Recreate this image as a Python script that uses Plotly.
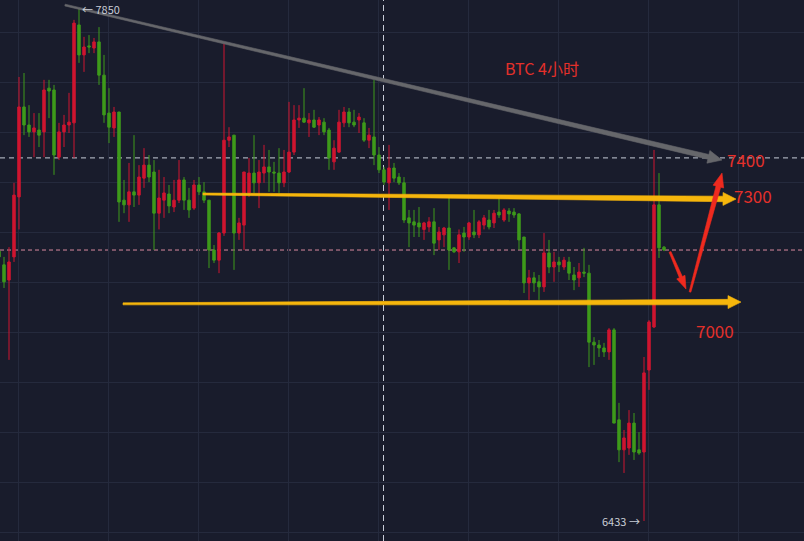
import math
import plotly.graph_objects as go

# ---------------- data ----------------
opens = [7180, 7142, 7100, 7164, 7330, 7579, 7529, 7510, 7515, 7510,
         7631, 7626, 7440, 7510, 7529, 7535, 7806, 7723, 7748, 7742,
         7759, 7667, 7562, 7521, 7565, 7321, 7308, 7344, 7335, 7382,
         7418, 7399, 7285, 7321, 7338, 7302, 7321, 7377, 7321, 7299,
         7363, 7344, 7321, 7183, 7155, 7230, 7487, 7501, 7230, 7252,
         7341, 7396, 7369, 7396, 7413, 7399, 7396, 7369, 7399, 7454,
         7543, 7548, 7535, 7543, 7529, 7537, 7515, 7427, 7454, 7535,
         7565, 7537, 7543, 7535, 7487, 7496, 7446, 7405, 7369, 7410,
         7385, 7369, 7272, 7261, 7258, 7240, 7247, 7261, 7211, 7225,
         7244, 7189, 7178, 7230, 7219, 7233, 7225, 7252, 7266, 7258,
         7288, 7266, 7291, 7288, 7283, 7219, 7092, 7106, 7095, 7081,
         7175, 7136, 7150, 7136, 7150, 7114, 7106, 7122, 7119, 6928,
         6920, 6912, 6901, 6962, 6713, 6630, 6635, 6704, 6630, 6624,
         6851, 6970, 7308, 7191]
highs = [7186, 7164, 7191, 7369, 7662, 7673, 7584, 7562, 7562, 7654,
         7654, 7640, 7535, 7557, 7618, 7820, 7850, 7773, 7778, 7770,
         7800, 7723, 7631, 7579, 7565, 7377, 7424, 7501, 7418, 7465,
         7446, 7432, 7405, 7385, 7363, 7377, 7432, 7385, 7355, 7377,
         7385, 7371, 7321, 7197, 7233, 7756, 7523, 7501, 7272, 7399,
         7438, 7501, 7432, 7474, 7460, 7427, 7465, 7460, 7593, 7584,
         7584, 7631, 7562, 7571, 7551, 7548, 7521, 7487, 7571, 7579,
         7576, 7571, 7562, 7548, 7521, 7654, 7468, 7413, 7474, 7424,
         7396, 7385, 7294, 7294, 7302, 7261, 7274, 7299, 7247, 7247,
         7327, 7191, 7240, 7247, 7261, 7294, 7266, 7280, 7294, 7294,
         7327, 7299, 7299, 7299, 7285, 7219, 7128, 7122, 7114, 7230,
         7211, 7178, 7164, 7164, 7164, 7136, 7147, 7189, 7142, 6942,
         6934, 6926, 6967, 6967, 6760, 6685, 6740, 6732, 6679, 6887,
         6989, 7460, 7396, 7194]
lows = [7155, 7078, 6879, 7150, 7240, 7501, 7496, 7440, 7468, 7440,
        7548, 7391, 7432, 7468, 7507, 7438, 7701, 7676, 7728, 7728,
        7640, 7535, 7479, 7496, 7261, 7285, 7261, 7302, 7308, 7355,
        7371, 7183, 7240, 7272, 7285, 7288, 7313, 7294, 7272, 7294,
        7335, 7313, 7133, 7147, 7119, 7222, 7468, 7128, 7211, 7183,
        7330, 7341, 7299, 7369, 7344, 7344, 7341, 7357, 7396, 7446,
        7521, 7535, 7496, 7521, 7501, 7501, 7405, 7405, 7452, 7523,
        7523, 7523, 7507, 7482, 7465, 7418, 7396, 7363, 7294, 7371,
        7363, 7258, 7191, 7219, 7219, 7211, 7233, 7169, 7183, 7191,
        7128, 7175, 7147, 7178, 7211, 7216, 7216, 7240, 7240, 7244,
        7272, 7261, 7261, 7272, 7183, 7064, 7045, 7067, 7045, 7067,
        7119, 7095, 7122, 7128, 7100, 7072, 7081, 7108, 6859, 6865,
        6887, 6887, 6879, 6704, 6596, 6566, 6616, 6602, 6616, 6433,
        6796, 6967, 7161, 7180]
closes = [7164, 7095, 7150, 7335, 7579, 7529, 7510, 7521, 7501, 7626,
          7623, 7446, 7510, 7529, 7537, 7811, 7723, 7745, 7745, 7759,
          7667, 7557, 7523, 7565, 7316, 7308, 7344, 7335, 7385, 7418,
          7385, 7285, 7327, 7341, 7305, 7321, 7377, 7321, 7294, 7363,
          7344, 7321, 7183, 7155, 7230, 7487, 7496, 7230, 7258, 7399,
          7396, 7369, 7399, 7413, 7399, 7396, 7369, 7399, 7454, 7543,
          7548, 7537, 7543, 7523, 7543, 7510, 7438, 7465, 7537, 7565,
          7535, 7529, 7551, 7487, 7501, 7446, 7405, 7371, 7410, 7382,
          7369, 7266, 7258, 7252, 7247, 7258, 7261, 7202, 7233, 7244,
          7183, 7178, 7225, 7219, 7258, 7225, 7261, 7272, 7247, 7285,
          7280, 7294, 7283, 7280, 7211, 7092, 7106, 7092, 7081, 7175,
          7136, 7150, 7142, 7155, 7119, 7100, 7122, 7119, 6928, 6920,
          6912, 6901, 6962, 6704, 6630, 6663, 6704, 6624, 6621, 6843,
          6984, 7308, 7189, 7183]
candle_idx = list(range(len(opens)))

title_text = "BTC 4小时"
target_labels = ["7400", "7300", "7000"]
high_label = "7850"
low_label = "6433"

# drawn lines (candle index, price)
trend_line = [(13.2, 7861), (144.6, 7432)]
upper_line = [(40.8, 7338), (147.4, 7324)]
lower_line = [(24.8, 7034), (148.4, 7039)]
red_down = [(134.2, 7178), (137.4, 7075)]
red_up = [(138.2, 7067), (144.6, 7396)]
crosshair_x = 76.9
crosshair_y = 7438
last_price = 7183

W, H = 804, 541
X_RANGE = [0.2, 161.0]
Y_RANGE = [6377.7, 7875.0]
BG = "#191C2C"
GRID = "#252A3D"
RED = "#CF1530"
GREEN = "#3E9A1B"
ARROW_RED = "#EE2A1F"
YELLOW = "#F6B60C"
GRAY = "#66676B"
TXT_RED = "#E4302A"

grid_x = [3.8 + 18 * k for k in range(9)]
grid_y = [7786 - 138.4 * k for k in range(11)]

fig = go.Figure()

shapes = [
    dict(type="line", xref="paper", yref="y", x0=0, x1=1, y0=crosshair_y, y1=crosshair_y,
         line=dict(color="#C8CCD8", width=1, dash="5px,4px"), layer="below"),
    dict(type="line", xref="x", yref="paper", x0=crosshair_x, x1=crosshair_x, y0=0, y1=1,
         line=dict(color="#C8CCD8", width=1, dash="6px,4px"), layer="below"),
    dict(type="line", xref="paper", yref="y", x0=0, x1=1, y0=last_price, y1=last_price,
         line=dict(color="#D88A9E", width=1, dash="4px,3px"), layer="below"),
]

fig.add_trace(go.Candlestick(
    x=candle_idx, open=opens, high=highs, low=lows, close=closes,
    increasing=dict(line=dict(color=RED, width=1), fillcolor=RED),
    decreasing=dict(line=dict(color=GREEN, width=1), fillcolor=GREEN),
    whiskerwidth=0, hoverinfo="skip", showlegend=False,
))

SX = W / (X_RANGE[1] - X_RANGE[0])
SY = H / (Y_RANGE[1] - Y_RANGE[0])


def to_px(p):
    return ((p[0] - X_RANGE[0]) * SX, (Y_RANGE[1] - p[1]) * SY)


def to_data(q):
    return (q[0] / SX + X_RANGE[0], Y_RANGE[1] - q[1] / SY)


def arrow_poly(pts, w0, w1, head_len, head_w, color):
    a = to_px(pts[0])
    b = to_px(pts[1])
    dx, dy = b[0] - a[0], b[1] - a[1]
    L = math.hypot(dx, dy)
    ux, uy = dx / L, dy / L
    nx, ny = -uy, ux
    base = (b[0] - ux * head_len, b[1] - uy * head_len)

    def off(p, d):
        return (p[0] + nx * d, p[1] + ny * d)

    poly = [off(a, w0 / 2), off(base, w1 / 2), off(base, head_w / 2), b,
            off(base, -head_w / 2), off(base, -w1 / 2), off(a, -w0 / 2), off(a, w0 / 2)]
    dpts = [to_data(q) for q in poly]
    fig.add_trace(go.Scatter(x=[q[0] for q in dpts], y=[q[1] for q in dpts],
                             mode="lines", fill="toself", fillcolor=color,
                             line=dict(color=color, width=0.6),
                             hoverinfo="skip", showlegend=False))


arrow_poly(trend_line, 1.8, 4.8, 14, 13, GRAY)
arrow_poly(upper_line, 2.0, 5.5, 13, 13, YELLOW)
arrow_poly(lower_line, 2.0, 5.5, 13, 13, YELLOW)
arrow_poly(red_down, 2.0, 3.2, 13, 9, ARROW_RED)
arrow_poly(red_up, 1.8, 4.8, 14, 11, ARROW_RED)

annotations = []
FONT = "Noto Sans CJK SC, Microsoft YaHei, sans-serif"


def ptext(txt, px, py, size, color, xanchor="center"):
    annotations.append(dict(x=px / W, y=1 - py / H, xref="paper", yref="paper",
                            text=txt, showarrow=False, xanchor=xanchor, yanchor="middle",
                            font=dict(family=FONT, size=size, color=color)))


ptext(title_text, 542, 68, 16, TXT_RED)
ptext(target_labels[0], 746, 160, 17, TXT_RED)
ptext(target_labels[1], 753, 196, 17, TXT_RED)
ptext(target_labels[2], 715, 330, 17, TXT_RED)
ptext("← " + high_label, 80, 9, 11, "#C9CDD6", xanchor="left")
ptext(low_label + " →", 642, 521, 11, "#C9CDD6", xanchor="right")

fig.update_layout(
    width=W, height=H, margin=dict(l=0, r=0, t=0, b=0),
    paper_bgcolor=BG, plot_bgcolor=BG, showlegend=False,
    shapes=shapes, annotations=annotations,
    xaxis=dict(range=X_RANGE, showgrid=True, gridcolor=GRID, gridwidth=1,
               tickvals=grid_x, showticklabels=False, zeroline=False,
               rangeslider=dict(visible=False), fixedrange=True),
    yaxis=dict(range=Y_RANGE, showgrid=True, gridcolor=GRID, gridwidth=1,
               tickvals=grid_y, showticklabels=False, zeroline=False, fixedrange=True),
)

fig.write_html("out.html")
